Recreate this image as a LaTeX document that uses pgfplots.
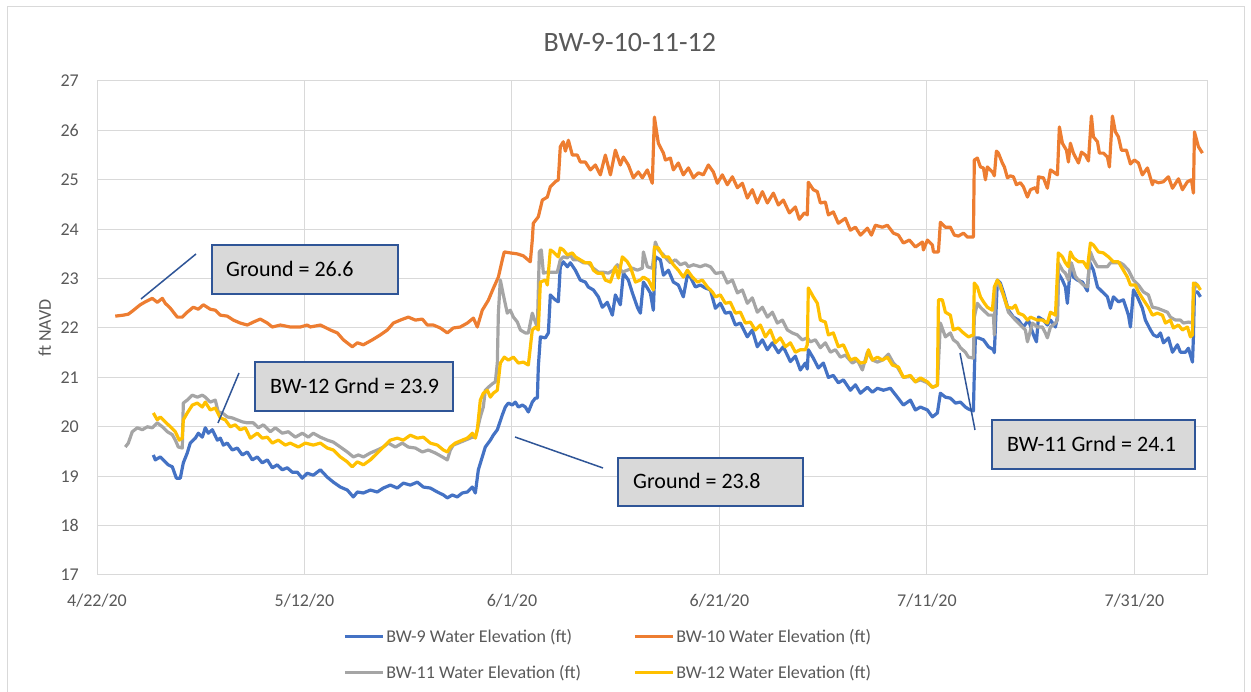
\documentclass[border=0pt]{standalone}
\usepackage{pgfplots}
\pgfplotsset{compat=1.18}
\usepackage{fontspec}
\setmainfont{Carlito}
\definecolor{sNine}{HTML}{4472C4}
\definecolor{sTen}{HTML}{ED7D31}
\definecolor{sEleven}{HTML}{A5A5A5}
\definecolor{sTwelve}{HTML}{FFC000}
\definecolor{gridc}{HTML}{D9D9D9}
\definecolor{txt}{HTML}{595959}
\definecolor{boxfill}{HTML}{D9D9D9}
\definecolor{boxedge}{HTML}{2F5597}
\begin{document}
\begin{tikzpicture}
\path[use as bounding box] (0pt,0pt) rectangle (1251pt,692pt);
\draw[gridc, line width=1pt] (7pt,-10pt) rectangle (1244pt,685pt);
\begin{axis}[
  at={(97pt,117pt)}, anchor=south west, scale only axis,
  width=1110pt, height=494pt,
  xmin=0, xmax=107, ymin=17, ymax=27,
  xtick={0,20,40,60,80,100},
  xticklabels={4/22/20,5/12/20,6/1/20,6/21/20,7/11/20,7/31/20},
  ytick={17,18,...,27},
  grid=major, major grid style={gridc, line width=1pt},
  axis line style={draw=gridc, line width=1pt},
  major tick length=0pt,
  /pgf/number format/assume math mode=true,
  tick label style={font=\fontsize{18}{21}\selectfont, text=txt},
  yticklabel style={inner sep=0pt, xshift=-18pt},
  xticklabel style={inner sep=0pt, yshift=-19pt},
  ylabel={ft NAVD},
  ylabel style={at={(axis description cs:-0.047,0.5)}, anchor=center, font=\fontsize{18}{21}\selectfont, text=txt},
  title={BW-9-10-11-12},
  title style={at={(axis description cs:0.480,1.066)}, anchor=center, font=\fontsize{28}{34}\selectfont, text=txt},
  legend columns=2,
  legend cell align=left,
  legend image code/.code={\draw[#1] (0pt,0pt) -- (38pt,0pt);},
  legend style={at={(axis description cs:0.2216,-0.106)}, anchor=north west, draw=none, fill=none, inner sep=0pt,
    font=\fontsize{18}{21}\selectfont, text=txt, /tikz/every even column/.append style={column sep=50pt}, /tikz/row sep=17pt},
]
\addplot[sNine, line width=3.2pt, line join=round] coordinates {
(5.43,19.43)(5.62,19.33)(6.10,19.39)(6.58,19.29)(6.87,19.23)(7.26,19.19)(7.65,18.96)(8.03,18.96)(8.32,19.27)(8.70,19.47)(8.99,19.67)(9.48,19.77)(9.77,19.87)(10.15,19.79)(10.44,19.98)(10.73,19.87)(11.12,19.94)(11.60,19.73)(11.89,19.77)(12.18,19.63)(12.56,19.67)(13.04,19.53)(13.52,19.57)(14.01,19.43)(14.49,19.49)(14.97,19.33)(15.45,19.39)(15.93,19.27)(16.42,19.33)(16.90,19.17)(17.38,19.23)(17.86,19.13)(18.34,19.17)(18.83,19.08)(19.31,19.08)(19.79,18.96)(20.27,19.06)(20.85,19.02)(21.53,19.13)(22.20,18.98)(22.78,18.88)(23.46,18.78)(24.13,18.72)(24.71,18.58)(25.10,18.68)(25.68,18.66)(26.35,18.72)(27.02,18.68)(27.60,18.76)(28.28,18.82)(28.95,18.76)(29.53,18.86)(30.20,18.82)(30.88,18.88)(31.46,18.78)(32.13,18.76)(32.81,18.68)(33.39,18.62)(33.77,18.56)(34.25,18.62)(34.73,18.58)(35.21,18.66)(35.70,18.68)(36.18,18.78)(36.47,18.66)(36.76,19.13)(37.14,19.39)(37.43,19.59)(37.92,19.73)(38.20,19.83)(38.59,19.94)(39.07,20.24)(39.36,20.40)(39.65,20.48)(40.04,20.44)(40.33,20.50)(40.62,20.40)(41.00,20.44)(41.29,20.40)(41.58,20.30)(41.96,20.50)(42.25,20.58)(42.45,20.58)(42.54,21.21)(42.74,21.82)(43.22,21.80)(43.51,21.90)(43.70,22.67)(44.18,22.57)(44.47,22.53)(44.66,23.24)(44.95,23.34)(45.34,23.24)(45.63,23.32)(46.11,23.17)(46.59,22.97)(47.07,22.93)(47.36,22.83)(47.85,22.77)(48.33,22.63)(48.71,22.42)(49.19,22.52)(49.68,22.26)(49.97,22.67)(50.45,22.47)(50.74,23.11)(51.22,22.97)(51.61,22.71)(52.09,22.42)(52.38,22.30)(52.67,22.93)(53.05,22.81)(53.34,22.71)(53.63,22.36)(53.82,23.44)(54.31,23.38)(54.60,23.07)(55.08,23.17)(55.56,22.93)(56.04,22.87)(56.52,22.63)(56.91,23.07)(57.20,23.03)(57.68,22.83)(58.16,22.87)(58.64,22.81)(59.13,22.77)(59.61,22.40)(60.09,22.50)(60.57,22.30)(61.05,22.32)(61.54,22.06)(62.02,22.10)(62.69,21.82)(63.17,21.96)(63.65,21.62)(64.14,21.76)(64.62,21.56)(65.10,21.70)(65.68,21.50)(66.16,21.62)(66.84,21.32)(67.32,21.43)(67.80,21.15)(68.28,21.29)(68.47,21.17)(68.57,21.56)(69.05,21.39)(69.54,21.19)(70.02,21.29)(70.50,21.00)(70.98,21.04)(71.46,20.89)(71.95,20.95)(72.62,20.74)(73.11,20.85)(73.59,20.68)(74.26,20.80)(74.75,20.70)(75.23,20.78)(75.81,20.74)(76.48,20.78)(77.15,20.60)(77.73,20.44)(78.41,20.54)(78.89,20.34)(79.37,20.40)(80.05,20.34)(80.53,20.20)(81.01,20.28)(81.30,20.68)(81.78,20.60)(82.26,20.58)(82.75,20.48)(83.23,20.50)(83.71,20.40)(84.00,20.36)(84.48,20.32)(84.57,21.09)(84.67,21.80)(84.96,21.80)(85.45,21.76)(85.93,21.62)(86.41,21.56)(86.50,21.50)(86.79,22.97)(87.08,22.91)(87.37,22.73)(87.86,22.36)(88.34,22.22)(88.82,22.16)(89.30,22.02)(89.79,22.16)(90.27,21.86)(90.56,21.72)(90.75,22.22)(91.23,22.16)(91.61,22.06)(91.91,22.16)(92.39,22.02)(92.58,22.22)(92.67,23.11)(93.06,22.97)(93.35,22.83)(93.54,22.50)(93.83,23.24)(94.12,23.03)(94.51,22.97)(94.99,22.93)(95.47,22.75)(95.67,23.34)(96.05,23.17)(96.44,22.83)(96.92,22.73)(97.40,22.63)(97.69,22.40)(97.98,22.63)(98.46,22.53)(98.94,22.57)(99.43,22.26)(99.62,22.02)(99.91,22.77)(100.29,22.63)(100.77,22.40)(101.06,22.16)(101.55,21.96)(101.84,21.86)(102.22,21.82)(102.51,21.90)(102.80,21.70)(103.28,21.80)(103.67,21.51)(104.15,21.66)(104.44,21.51)(104.92,21.51)(105.21,21.59)(105.60,21.31)(105.69,21.82)(105.79,22.73)(106.08,22.73)(106.37,22.63)
};
\addlegendentry{BW-9 Water Elevation (ft)}
\addplot[sTen, line width=3.2pt, line join=round] coordinates {
(1.76,22.24)(2.54,22.26)(3.02,22.28)(3.40,22.34)(4.17,22.47)(4.66,22.53)(5.33,22.60)(5.81,22.52)(6.30,22.60)(6.58,22.50)(7.07,22.40)(7.74,22.22)(8.22,22.22)(8.70,22.32)(9.28,22.42)(9.77,22.38)(10.25,22.47)(10.92,22.38)(11.40,22.36)(11.89,22.26)(12.56,22.24)(13.14,22.16)(13.81,22.10)(14.49,22.06)(15.07,22.12)(15.74,22.18)(16.42,22.10)(16.90,22.02)(17.67,22.06)(18.63,22.02)(19.60,22.02)(20.27,22.06)(20.56,22.02)(21.53,22.06)(22.49,21.96)(23.17,21.90)(23.75,21.76)(24.61,21.62)(25.10,21.70)(25.68,21.66)(26.54,21.76)(27.31,21.86)(27.99,21.96)(28.57,22.10)(29.24,22.16)(30.01,22.22)(30.69,22.16)(31.36,22.18)(31.84,22.06)(32.42,22.06)(33.10,22.00)(33.77,21.90)(34.35,22.00)(35.02,22.02)(35.70,22.10)(36.28,22.20)(36.66,22.02)(37.14,22.36)(37.72,22.56)(38.20,22.80)(38.69,23.03)(39.07,23.38)(39.26,23.54)(39.84,23.52)(40.52,23.50)(41.10,23.46)(41.77,23.34)(41.96,23.78)(42.06,24.12)(42.54,24.25)(42.93,24.59)(43.41,24.65)(43.70,24.86)(44.18,24.96)(44.47,25.00)(44.66,25.67)(44.95,25.77)(45.15,25.58)(45.44,25.80)(45.82,25.50)(46.30,25.50)(46.59,25.36)(47.07,25.36)(47.56,25.20)(48.04,25.30)(48.52,25.10)(49.00,25.50)(49.49,25.10)(49.97,25.60)(50.45,25.30)(50.74,25.46)(51.22,25.30)(51.70,25.04)(52.18,25.16)(52.57,25.04)(53.05,25.20)(53.53,24.93)(53.73,26.27)(54.11,25.74)(54.60,25.54)(54.79,25.40)(55.27,25.44)(55.56,25.20)(56.04,25.34)(56.52,25.10)(57.01,25.24)(57.49,25.04)(57.97,25.14)(58.45,25.10)(58.93,25.30)(59.41,25.16)(59.80,24.93)(60.28,25.10)(60.76,24.90)(61.25,25.06)(61.73,24.84)(62.21,24.93)(62.69,24.63)(63.17,24.80)(63.65,24.53)(64.14,24.76)(64.62,24.53)(65.20,24.73)(65.68,24.49)(66.16,24.59)(66.74,24.33)(67.32,24.45)(67.70,24.20)(68.19,24.33)(68.47,24.29)(68.57,24.95)(69.05,24.80)(69.44,24.76)(69.73,24.53)(70.21,24.55)(70.50,24.29)(70.98,24.35)(71.46,24.12)(72.14,24.22)(72.62,23.98)(73.11,24.04)(73.59,23.88)(74.26,24.02)(74.65,23.88)(75.03,24.08)(75.71,24.04)(76.19,24.08)(76.77,23.92)(77.25,23.88)(77.73,23.72)(78.31,23.78)(78.89,23.64)(79.57,23.74)(79.66,23.58)(80.05,23.78)(80.53,23.68)(80.63,23.54)(81.11,23.54)(81.30,24.14)(81.78,24.04)(82.26,24.04)(82.65,23.88)(83.03,23.86)(83.52,23.92)(83.90,23.84)(84.48,23.84)(84.57,25.40)(84.86,25.44)(85.16,25.26)(85.45,25.24)(85.64,25.00)(85.83,25.26)(86.31,25.16)(86.50,25.08)(86.70,25.58)(86.89,25.54)(87.27,25.34)(87.47,25.26)(87.76,25.04)(88.05,25.08)(88.34,25.06)(88.63,24.90)(89.01,24.94)(89.30,24.86)(89.69,24.65)(89.98,24.80)(90.46,24.84)(90.65,24.74)(90.75,25.06)(91.23,25.04)(91.61,24.83)(91.91,25.20)(92.19,25.16)(92.58,25.10)(92.77,26.07)(93.06,25.74)(93.45,25.60)(93.64,25.36)(93.83,25.74)(94.12,25.54)(94.61,25.34)(94.90,25.56)(95.28,25.50)(95.57,25.38)(95.86,26.29)(96.05,25.87)(96.44,25.77)(96.63,25.54)(97.01,25.54)(97.40,25.46)(97.59,25.26)(97.88,26.29)(98.17,25.97)(98.46,25.87)(98.75,25.60)(99.23,25.60)(99.62,25.32)(100.00,25.40)(100.39,25.34)(100.77,25.10)(101.26,25.24)(101.74,24.90)(101.84,24.98)(102.32,24.94)(102.80,24.96)(103.28,25.06)(103.67,24.83)(104.25,25.02)(104.63,24.80)(105.11,24.96)(105.50,25.00)(105.69,24.73)(105.79,25.97)(106.17,25.67)(106.56,25.54)
};
\addlegendentry{BW-10 Water Elevation (ft)}
\addplot[sEleven, line width=3.2pt, line join=round] coordinates {
(2.73,19.59)(3.02,19.67)(3.40,19.90)(3.89,19.98)(4.37,19.94)(4.85,20.00)(5.33,19.98)(5.81,20.08)(6.30,20.00)(6.78,19.90)(7.26,19.84)(7.55,19.73)(7.84,19.59)(8.22,19.57)(8.32,20.48)(8.70,20.54)(9.19,20.64)(9.67,20.60)(10.15,20.64)(10.44,20.60)(10.92,20.50)(11.40,20.54)(11.69,20.30)(12.08,20.28)(12.56,20.20)(13.04,20.18)(13.52,20.14)(14.01,20.10)(14.49,20.08)(15.07,20.08)(15.55,19.98)(16.03,20.04)(16.71,19.90)(17.19,19.98)(17.86,19.87)(18.44,19.90)(19.12,19.79)(19.79,19.87)(20.37,19.79)(20.85,19.87)(21.53,19.79)(22.20,19.73)(22.78,19.69)(23.46,19.59)(24.13,19.49)(24.71,19.39)(25.20,19.43)(25.68,19.39)(26.35,19.47)(27.02,19.53)(27.60,19.59)(28.08,19.67)(28.76,19.59)(29.43,19.67)(30.01,19.59)(30.69,19.57)(31.36,19.49)(31.94,19.53)(32.61,19.47)(33.29,19.39)(33.77,19.33)(34.06,19.53)(34.35,19.63)(34.83,19.67)(35.51,19.73)(36.18,19.79)(36.47,19.79)(36.66,19.94)(36.95,20.20)(37.24,20.40)(37.43,20.74)(37.72,20.80)(38.11,20.87)(38.40,20.91)(38.59,21.29)(38.69,22.30)(38.88,22.97)(39.17,22.67)(39.55,22.30)(39.84,22.36)(40.14,22.22)(40.52,22.12)(40.81,21.96)(41.29,21.90)(41.58,21.90)(41.96,22.30)(42.25,22.12)(42.45,22.02)(42.64,23.54)(42.83,23.58)(43.03,23.11)(43.41,23.13)(43.89,23.13)(44.37,23.13)(44.66,23.38)(44.95,23.44)(45.34,23.42)(45.63,23.48)(45.92,23.38)(46.40,23.38)(46.88,23.32)(47.36,23.32)(47.85,23.21)(48.33,23.13)(48.81,23.13)(49.29,23.11)(49.77,23.17)(50.16,23.28)(50.64,23.13)(51.12,23.17)(51.61,23.21)(52.09,23.17)(52.57,23.21)(52.67,23.54)(53.05,23.24)(53.53,23.21)(53.82,23.74)(54.11,23.58)(54.60,23.48)(54.99,23.38)(55.27,23.32)(55.75,23.38)(56.23,23.28)(56.72,23.32)(57.01,23.24)(57.49,23.28)(58.16,23.24)(58.64,23.28)(59.13,23.24)(59.61,23.11)(59.80,23.11)(60.28,23.13)(60.76,22.91)(61.25,22.97)(61.73,22.71)(62.21,22.77)(62.69,22.50)(63.17,22.61)(63.65,22.32)(64.14,22.42)(64.62,22.22)(65.10,22.32)(65.58,22.10)(66.07,22.16)(66.55,21.96)(67.03,21.90)(67.51,21.86)(67.99,21.76)(68.47,21.80)(68.76,21.72)(69.25,21.76)(69.73,21.60)(70.21,21.70)(70.70,21.51)(71.18,21.56)(71.66,21.41)(72.14,21.45)(72.81,21.29)(73.30,21.35)(73.78,21.15)(74.26,21.51)(74.75,21.35)(75.23,21.31)(75.71,21.35)(76.29,21.47)(76.77,21.29)(77.15,21.21)(77.73,21.00)(78.41,21.02)(78.89,20.91)(79.37,20.95)(80.05,20.89)(80.53,20.80)(81.01,20.84)(81.30,22.10)(81.78,21.82)(82.26,21.90)(82.55,21.76)(82.94,21.70)(83.23,21.60)(83.71,21.51)(84.00,21.41)(84.48,21.39)(84.57,22.22)(84.86,22.50)(85.16,22.42)(85.45,22.36)(85.93,22.26)(86.41,22.26)(86.50,21.86)(86.60,22.83)(86.89,22.91)(87.37,22.67)(87.86,22.32)(88.53,22.16)(89.01,22.06)(89.49,21.96)(89.69,21.72)(90.17,22.10)(90.65,22.02)(91.13,22.02)(91.42,21.90)(91.61,21.80)(91.91,22.02)(92.39,22.10)(92.58,22.16)(92.67,23.32)(93.06,23.17)(93.35,23.11)(93.64,22.97)(93.93,23.32)(94.32,23.04)(94.80,22.93)(95.09,22.87)(95.47,22.83)(95.76,23.54)(96.05,23.38)(96.44,23.24)(96.92,23.24)(97.40,23.24)(97.69,23.32)(98.17,23.32)(98.65,23.32)(98.94,23.28)(99.43,23.17)(99.91,22.97)(100.39,22.87)(100.87,22.73)(101.35,22.67)(101.74,22.42)(102.22,22.40)(102.70,22.36)(103.18,22.32)(103.47,22.22)(103.96,22.16)(104.44,22.16)(104.73,22.10)(105.21,22.12)(105.60,22.10)(105.69,22.63)(105.89,22.91)(106.17,22.83)
};
\addlegendentry{BW-11 Water Elevation (ft)}
\addplot[sTwelve, line width=3.2pt, line join=round] coordinates {
(5.43,20.28)(5.81,20.14)(6.10,20.20)(6.58,20.10)(7.07,20.00)(7.55,19.90)(7.93,19.73)(8.22,19.77)(8.32,20.14)(8.70,20.28)(9.19,20.44)(9.67,20.48)(10.15,20.40)(10.44,20.50)(10.92,20.34)(11.40,20.38)(11.89,20.18)(12.37,20.14)(12.85,20.00)(13.33,20.04)(13.81,19.94)(14.30,19.98)(14.78,19.77)(15.45,19.87)(15.93,19.77)(16.42,19.79)(16.90,19.67)(17.48,19.73)(18.15,19.63)(18.63,19.67)(19.41,19.59)(20.08,19.67)(20.85,19.63)(21.53,19.67)(22.20,19.57)(22.78,19.53)(23.46,19.39)(24.13,19.29)(24.61,19.19)(25.10,19.29)(25.68,19.23)(26.35,19.33)(27.02,19.47)(27.60,19.59)(28.28,19.73)(28.95,19.77)(29.53,19.73)(30.20,19.83)(30.88,19.77)(31.46,19.79)(32.13,19.67)(32.81,19.63)(33.39,19.53)(33.77,19.49)(34.06,19.59)(34.54,19.67)(35.21,19.73)(35.70,19.77)(36.18,19.87)(36.47,19.77)(36.66,19.94)(36.95,20.54)(37.24,20.68)(37.63,20.74)(37.92,20.60)(38.20,20.68)(38.59,20.74)(38.88,21.29)(39.26,21.41)(39.65,21.35)(40.14,21.41)(40.62,21.29)(41.10,21.31)(41.58,21.25)(41.96,21.96)(42.25,22.02)(42.54,21.96)(42.74,22.93)(43.22,22.97)(43.41,22.87)(43.70,23.58)(43.99,23.54)(44.47,23.44)(44.66,23.62)(44.95,23.58)(45.34,23.48)(45.82,23.52)(46.11,23.44)(46.59,23.38)(47.07,23.32)(47.56,23.32)(47.85,23.17)(48.23,23.11)(48.71,23.11)(49.00,22.97)(49.49,22.93)(49.97,23.24)(50.26,23.01)(50.64,23.44)(51.12,23.34)(51.41,23.24)(51.90,22.93)(52.38,22.97)(52.67,23.03)(53.15,22.97)(53.63,22.77)(53.73,23.64)(54.11,23.62)(54.60,23.44)(55.08,23.44)(55.56,23.28)(56.04,23.17)(56.52,23.03)(56.91,23.17)(57.39,23.03)(57.87,22.93)(58.35,22.97)(58.84,22.83)(59.32,22.73)(59.61,22.63)(60.09,22.67)(60.57,22.50)(61.05,22.52)(61.54,22.30)(62.02,22.32)(62.50,22.10)(62.98,22.12)(63.46,21.96)(63.95,22.06)(64.43,21.82)(64.91,21.96)(65.39,21.70)(65.87,21.80)(66.36,21.62)(66.84,21.70)(67.32,21.51)(67.80,21.56)(68.28,21.56)(68.47,21.66)(68.57,22.81)(69.05,22.63)(69.44,22.50)(69.73,22.16)(70.21,22.12)(70.50,21.86)(70.98,21.90)(71.46,21.62)(71.95,21.66)(72.62,21.35)(73.11,21.39)(73.59,21.29)(74.07,21.31)(74.36,21.56)(74.75,21.35)(75.23,21.41)(75.71,21.35)(76.19,21.41)(76.67,21.25)(77.25,21.21)(77.73,21.00)(78.41,21.04)(78.89,20.91)(79.37,20.99)(80.05,20.91)(80.53,20.80)(81.01,20.84)(81.11,22.57)(81.49,22.57)(81.78,22.32)(82.26,22.26)(82.55,21.96)(83.03,22.00)(83.52,21.90)(84.00,21.82)(84.48,21.86)(84.57,22.91)(84.86,22.83)(85.16,22.63)(85.45,22.53)(85.83,22.42)(86.31,22.36)(86.50,22.83)(86.79,22.97)(87.08,22.87)(87.37,22.67)(87.76,22.42)(88.24,22.40)(88.53,22.46)(88.82,22.30)(89.30,22.26)(89.69,22.16)(89.98,22.22)(90.65,22.16)(91.13,22.16)(91.61,22.10)(91.91,22.32)(92.39,22.26)(92.67,23.52)(93.06,23.44)(93.35,23.32)(93.64,23.24)(93.83,23.54)(94.12,23.42)(94.61,23.34)(95.09,23.34)(95.47,23.21)(95.76,23.72)(96.05,23.68)(96.53,23.54)(97.01,23.52)(97.50,23.44)(97.98,23.34)(98.46,23.34)(98.94,23.17)(99.33,23.03)(99.62,22.87)(100.10,22.87)(100.39,22.73)(100.87,22.57)(101.35,22.42)(101.74,22.26)(102.22,22.30)(102.70,22.26)(102.99,22.10)(103.47,22.16)(103.76,22.00)(104.25,22.06)(104.63,21.96)(105.11,22.02)(105.40,21.82)(105.60,21.86)(105.69,22.91)(106.08,22.87)(106.37,22.77)
};
\addlegendentry{BW-12 Water Elevation (ft)}
\end{axis}
% annotation call-outs
\begin{scope}[boxedge, line width=1.5pt]
\draw (141pt,393pt) -- (196pt,438pt);
\draw (218pt,269pt) -- (239pt,319pt);
\draw (515pt,255pt) -- (603pt,224pt);
\draw (960pt,339pt) -- (975pt,262pt);
\draw[fill=boxfill] (212pt,398pt) rectangle (398pt,447pt);
\draw[fill=boxfill] (255pt,281pt) rectangle (453pt,330pt);
\draw[fill=boxfill] (618pt,186pt) rectangle (803pt,234pt);
\draw[fill=boxfill] (992pt,223pt) rectangle (1195pt,272pt);
\end{scope}
\begin{scope}[every node/.style={anchor=base west, inner sep=0pt, text=black, font=\fontsize{22}{26}\selectfont}]
\node at (226pt,415pt) {Ground = 26.6};
\node at (270pt,298pt) {BW-12 Grnd = 23.9};
\node at (633pt,203pt) {Ground = 23.8};
\node at (1007pt,240pt) {BW-11 Grnd = 24.1};
\end{scope}
\end{tikzpicture}
\end{document}
